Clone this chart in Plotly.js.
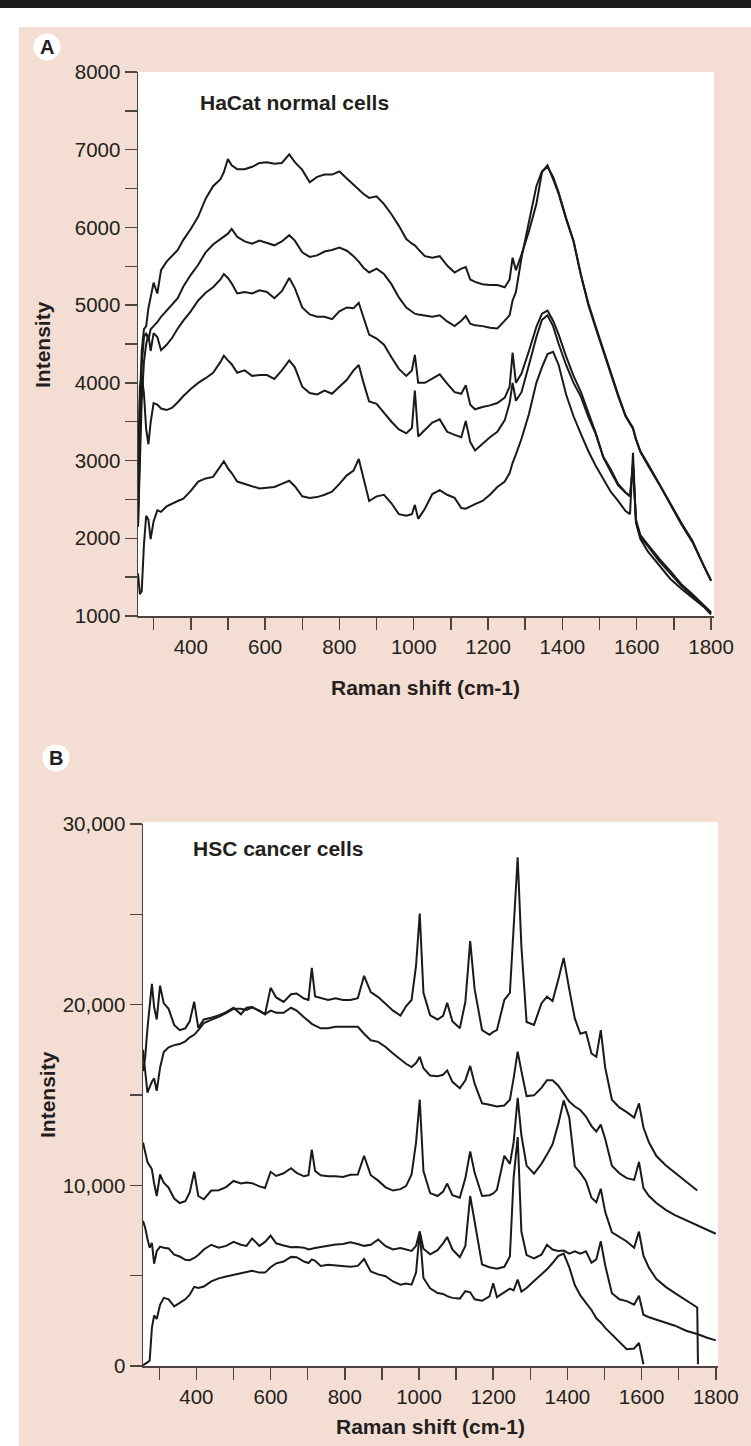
<!DOCTYPE html>
<html>
<head>
<meta charset="utf-8">
<script src="https://cdn.plot.ly/plotly-3.0.1.min.js"></script>
<style>
  html, body { margin: 0; padding: 0; background: #ffffff; }
  #chart { width: 751px; height: 1446px; }
</style>
</head>
<body>
<div id="chart"></div>
<script>
// ---------- Panel A: HaCat normal cells ----------
const ramanA = [258,263,268,274,280,286,292,300,310,320,335,350,365,380,400,420,440,460,480,489,500,510,525,545,565,585,605,625,645,665,680,700,720,740,760,780,800,820,838,852,865,880,900,920,940,960,980,995,1003,1012,1030,1050,1070,1090,1110,1128,1140,1152,1165,1185,1205,1225,1245,1258,1266,1275,1290,1310,1330,1345,1360,1375,1390,1410,1430,1450,1470,1490,1510,1530,1550,1570,1582,1590,1598,1610,1630,1660,1690,1720,1750,1780,1800];
const hacat1 = [2380,3770,4410,4690,4730,4960,5100,5290,5150,5450,5560,5630,5710,5840,5980,6140,6370,6530,6620,6710,6880,6800,6750,6750,6780,6830,6840,6820,6830,6940,6840,6740,6580,6650,6680,6680,6720,6630,6550,6480,6430,6380,6400,6300,6170,6020,5850,5790,5770,5720,5630,5610,5630,5510,5420,5470,5490,5330,5300,5270,5260,5260,5230,5330,5610,5450,5650,5950,6300,6710,6800,6620,6430,6110,5820,5380,5020,4720,4420,4120,3850,3580,3480,3420,3280,3120,2960,2710,2450,2200,1970,1650,1460];
const hacat2 = [2150,3300,4230,4590,4640,4550,4690,4730,4780,4850,4930,5010,5090,5240,5390,5520,5680,5780,5850,5880,5920,5980,5880,5820,5790,5830,5800,5770,5820,5900,5830,5680,5620,5640,5690,5710,5740,5700,5630,5560,5480,5420,5470,5400,5270,5100,4970,4920,4890,4880,4870,4850,4870,4790,4730,4800,4860,4760,4740,4730,4710,4700,4800,4870,5060,5170,5610,6070,6530,6720,6780,6650,6450,6120,5830,5390,5000,4700,4410,4110,3830,3570,3470,3410,3270,3110,2940,2700,2440,2180,1950,1640,1450];
const hacat3 = [2150,3070,3770,4270,4500,4620,4410,4640,4590,4420,4490,4580,4700,4800,4920,5060,5160,5230,5330,5400,5350,5280,5150,5170,5150,5190,5170,5090,5180,5350,5220,4970,4880,4850,4850,4820,4920,4970,4960,5030,4850,4620,4570,4490,4330,4180,4090,4160,4360,4000,4000,4050,4110,3990,3880,3860,3970,3720,3660,3690,3710,3740,3810,3950,4390,4000,4120,4410,4720,4890,4930,4800,4620,4340,4090,3880,3620,3350,3050,2890,2700,2590,2540,2940,2240,2040,1920,1740,1580,1410,1280,1140,1050];
const hacat4 = [2840,3950,4090,3860,3400,3210,3490,3740,3720,3670,3650,3680,3750,3830,3920,4000,4060,4130,4270,4350,4290,4240,4130,4160,4090,4100,4100,4050,4160,4290,4200,3950,3870,3850,3900,3860,3950,4040,4160,4230,4000,3760,3730,3610,3500,3400,3350,3420,3900,3310,3400,3490,3530,3370,3330,3300,3510,3240,3130,3220,3300,3370,3520,3740,4000,3770,3880,4230,4590,4810,4870,4730,4500,4230,4000,3820,3560,3340,3040,2860,2680,2590,2540,2960,2220,2010,1900,1710,1550,1390,1260,1130,1040];
const hacat5 = [1550,1280,1320,1920,2290,2240,1990,2220,2360,2340,2410,2450,2480,2510,2610,2730,2770,2790,2940,2990,2900,2840,2730,2700,2660,2640,2650,2660,2700,2740,2670,2540,2520,2530,2560,2600,2700,2810,2870,3020,2770,2480,2540,2560,2450,2310,2290,2310,2430,2250,2380,2570,2620,2560,2520,2390,2380,2410,2440,2480,2560,2660,2730,2840,2970,3080,3280,3600,4000,4200,4370,4400,4230,3850,3570,3340,3120,2930,2760,2600,2480,2350,2310,3100,2200,1990,1830,1650,1480,1350,1230,1120,1020];

// ---------- Panel B: HSC cancer cells ----------
const ramanB = [256,262,268,274,280,286,293,302,312,325,340,355,370,382,394,405,420,440,460,480,500,520,535,550,570,585,600,615,635,655,670,690,702,711,720,735,755,775,795,815,835,852,870,890,910,930,950,965,980,992,1002,1012,1030,1050,1065,1076,1090,1110,1125,1138,1150,1170,1190,1200,1210,1230,1245,1255,1266,1276,1290,1310,1330,1345,1360,1375,1390,1405,1420,1435,1450,1465,1478,1490,1502,1520,1540,1560,1580,1593,1605,1620,1640,1665,1690,1720,1750,1752,1775,1800];
const hsc1 = [16320,17110,18690,19870,21150,19870,19180,21050,20070,19770,18880,18590,18690,19080,20160,18720,19180,19280,19410,19590,19830,19470,19830,19870,19630,19470,20930,20400,20150,20580,20620,20340,20260,22040,20460,20360,20260,20360,20260,20260,20360,21600,20700,20420,20050,19670,19400,19910,20260,22140,25040,20660,19410,19180,19380,20100,19080,18690,20160,23520,20860,18590,18330,18490,18590,20260,20660,24210,28150,23220,19040,18880,20070,20440,20200,21350,22590,20860,19240,18390,18490,17300,17110,18590,16510,14740,14310,14050,13750,14540,13200,12370,11620,11110,10710,10200,9710,null,null,null];
const hsc2 = [17500,16320,15130,15430,15730,15920,15230,16510,17380,17640,17760,17820,17970,18190,18330,18590,18980,19160,19320,19530,19770,19770,19710,19850,19670,19470,19670,19550,19550,19830,19670,19300,19080,18940,18840,18690,18690,18780,18780,18780,18780,18390,18030,17940,17660,17300,16950,16730,16550,16770,17110,16480,16080,16040,16120,16360,15730,15370,15820,16610,15630,14540,14460,14400,14360,14420,14740,15920,17400,16320,14940,14980,15390,15820,15820,15530,15070,14640,14360,14170,13810,13280,12980,13360,12570,11090,10670,10400,10300,11290,9850,9410,9020,8640,8350,8070,7790,7770,7560,7320];
const hsc3 = [12370,11780,11290,11090,10890,10100,9410,10600,10140,9870,9270,9020,9120,9610,10750,9410,9230,9710,9730,9900,10240,10100,10160,10120,9940,9850,10750,10520,10670,10950,10690,10500,10560,11980,10790,10560,10500,10500,10460,10580,10600,11640,10560,10260,9890,9710,9790,9960,10600,12370,14740,10790,9570,9410,9650,10100,9450,9310,10400,11880,10690,9410,9450,9550,9750,11640,11190,12370,14840,12770,11090,10650,11190,11700,12270,13360,14700,13750,11050,10690,10240,9310,9060,9810,8520,7400,7160,6890,6550,7440,6100,5430,4810,4380,4030,3630,3240,100,null,null];
const hsc4 = [8030,7640,7040,6550,6810,5660,6350,6610,6550,6510,6160,6060,5880,5860,5980,6140,6450,6710,6550,6650,6870,6710,6650,7060,6650,6870,7220,6790,6670,6570,6590,6550,6450,6510,6530,6590,6670,6730,6750,6850,6750,6650,6710,7000,6630,6450,6530,6470,6370,6650,7440,6490,6180,6410,6790,7140,6450,6020,6650,9410,8030,5620,5470,5430,5390,5490,6060,10400,12670,7440,6140,5960,6160,6710,6450,6370,6390,6220,6350,6220,6350,5720,5900,6910,5560,4030,3690,3590,3390,3890,2840,2700,2570,2390,2230,1950,1780,1760,1580,1420];
const hsc5 = [40,100,200,300,2110,2800,2600,3390,3770,3690,3300,3490,3690,3950,4380,4320,4400,4680,4850,4950,5050,5150,5230,5270,5170,5170,5470,5680,5780,6040,6020,5780,5700,5900,5820,5540,5600,5560,5560,5500,5540,5920,5230,5070,4970,4680,4500,4560,4500,5170,7440,4870,4300,4040,3990,3870,3770,3730,4140,4080,3690,3610,3850,4580,3810,4080,4280,4180,4780,4120,4320,4700,5070,5350,5700,6080,6220,5470,4480,3910,3490,3100,2640,2410,2110,1740,1360,930,970,1280,100,null,null,null,null,null,null,null,null,null];

// ---------- Tick labels ----------
const xTickVals = [300,400,500,600,700,800,900,1000,1100,1200,1300,1400,1500,1600,1700,1800];
const xTickText = ['','400','','600','','800','','1000','','1200','','1400','','1600','','1800'];
const yTickValsA = [1000,1500,2000,2500,3000,3500,4000,4500,5000,5500,6000,6500,7000,7500,8000];
const yTickTextA = ['1000','','2000','','3000','','4000','','5000','','6000','','7000','','8000'];
const yTickValsB = [0,5000,10000,15000,20000,25000,30000];
const yTickTextB = ['0','','10,000','','20,000','','30,000'];

// ---------- Layout helpers (pixel -> paper) ----------
const W = 751, H = 1446;
const px = v => v / W;
const py = v => 1 - v / H;

const FONT = 'Liberation Sans, Arial, Helvetica, sans-serif';
const INK = '#231f20';
const AXIS = '#4d4340';
const PEACH = '#f4ded3';
const LINE = '#1a1a1a';

function mk(x, y, xa, ya) {
  return { x: x, y: y, type: 'scatter', mode: 'lines', xaxis: xa, yaxis: ya,
           line: { color: LINE, width: 2 }, hoverinfo: 'skip', showlegend: false, connectgaps: false };
}

const traces = [
  mk(ramanA, hacat1, 'x', 'y'), mk(ramanA, hacat2, 'x', 'y'), mk(ramanA, hacat3, 'x', 'y'),
  mk(ramanA, hacat4, 'x', 'y'), mk(ramanA, hacat5, 'x', 'y'),
  mk(ramanB, hsc1, 'x2', 'y2'), mk(ramanB, hsc2, 'x2', 'y2'), mk(ramanB, hsc3, 'x2', 'y2'),
  mk(ramanB, hsc4, 'x2', 'y2'), mk(ramanB, hsc5, 'x2', 'y2')
];

const axisCommon = {
  showgrid: false, zeroline: false, showline: true, linecolor: AXIS, linewidth: 1.5,
  ticks: 'outside', ticklen: 12, tickwidth: 1.5, tickcolor: AXIS,
  tickfont: { family: FONT, size: 20.5, color: INK }, fixedrange: true, tickmode: 'array'
};

const layout = {
  width: W, height: H,
  margin: { l: 0, r: 0, t: 0, b: 0, pad: 0 },
  paper_bgcolor: PEACH, plot_bgcolor: '#ffffff',
  showlegend: false,
  xaxis: Object.assign({}, axisCommon, { domain: [px(138), px(714)], range: [258, 1808], anchor: 'y',
          tickvals: xTickVals, ticktext: xTickText }),
  yaxis: Object.assign({}, axisCommon, { domain: [py(616), py(72)], range: [1000, 8000], anchor: 'x',
          tickvals: yTickValsA, ticktext: yTickTextA }),
  xaxis2: Object.assign({}, axisCommon, { domain: [px(143), px(718)], range: [256, 1806], anchor: 'y2',
          tickvals: xTickVals, ticktext: xTickText }),
  yaxis2: Object.assign({}, axisCommon, { domain: [py(1366), py(824)], range: [0, 30000], anchor: 'x2',
          tickvals: yTickValsB, ticktext: yTickTextB }),
  shapes: [
    { type: 'rect', xref: 'paper', yref: 'paper', x0: 0, x1: 1, y0: py(27), y1: 1, fillcolor: '#ffffff', line: { width: 0 }, layer: 'below' },
    { type: 'rect', xref: 'paper', yref: 'paper', x0: 0, x1: px(19), y0: 0, y1: 1, fillcolor: '#ffffff', line: { width: 0 }, layer: 'below' },
    { type: 'rect', xref: 'paper', yref: 'paper', x0: 0, x1: 1, y0: py(8), y1: 1, fillcolor: '#1b1b1b', line: { width: 0 }, layer: 'below' },
    { type: 'rect', xref: 'paper', yref: 'paper', x0: px(138), x1: px(714), y0: py(616), y1: py(72), fillcolor: '#ffffff', line: { width: 0 }, layer: 'below' },
    { type: 'rect', xref: 'paper', yref: 'paper', x0: px(143), x1: px(718), y0: py(1366), y1: py(822), fillcolor: '#ffffff', line: { width: 0 }, layer: 'below' },
    { type: 'circle', xref: 'paper', yref: 'paper', x0: px(33.5), x1: px(60.5), y0: py(60.5), y1: py(33.5), fillcolor: '#ffffff', line: { width: 0 }, layer: 'below' },
    { type: 'circle', xref: 'paper', yref: 'paper', x0: px(42.5), x1: px(69.5), y0: py(771.5), y1: py(744.5), fillcolor: '#ffffff', line: { width: 0 }, layer: 'below' }
  ],
  annotations: [
    { text: '<b>A</b>', xref: 'paper', yref: 'paper', x: px(47), y: py(47), xanchor: 'center', yanchor: 'middle', showarrow: false, font: { family: FONT, size: 20, color: INK } },
    { text: '<b>B</b>', xref: 'paper', yref: 'paper', x: px(56), y: py(758), xanchor: 'center', yanchor: 'middle', showarrow: false, font: { family: FONT, size: 20, color: INK } },
    { text: '<b>HaCat normal cells</b>', xref: 'paper', yref: 'paper', x: px(198), y: py(103), xanchor: 'left', yanchor: 'middle', showarrow: false, font: { family: FONT, size: 21, color: INK } },
    { text: '<b>HSC cancer cells</b>', xref: 'paper', yref: 'paper', x: px(191), y: py(848), xanchor: 'left', yanchor: 'middle', showarrow: false, font: { family: FONT, size: 21, color: INK } },
    { text: '<b>Raman shift (cm-1)</b>', xref: 'paper', yref: 'paper', x: px(425), y: py(687), xanchor: 'center', yanchor: 'middle', showarrow: false, font: { family: FONT, size: 21, color: INK } },
    { text: '<b>Raman shift (cm-1)</b>', xref: 'paper', yref: 'paper', x: px(430), y: py(1426), xanchor: 'center', yanchor: 'middle', showarrow: false, font: { family: FONT, size: 21, color: INK } },
    { text: '<b>Intensity</b>', xref: 'paper', yref: 'paper', x: px(42), y: py(345), xanchor: 'center', yanchor: 'middle', textangle: -90, showarrow: false, font: { family: FONT, size: 21, color: INK } },
    { text: '<b>Intensity</b>', xref: 'paper', yref: 'paper', x: px(47), y: py(1095), xanchor: 'center', yanchor: 'middle', textangle: -90, showarrow: false, font: { family: FONT, size: 21, color: INK } }
  ]
};

Plotly.newPlot('chart', traces, layout, { displayModeBar: false, staticPlot: true, responsive: false });
</script>
</body>
</html>
